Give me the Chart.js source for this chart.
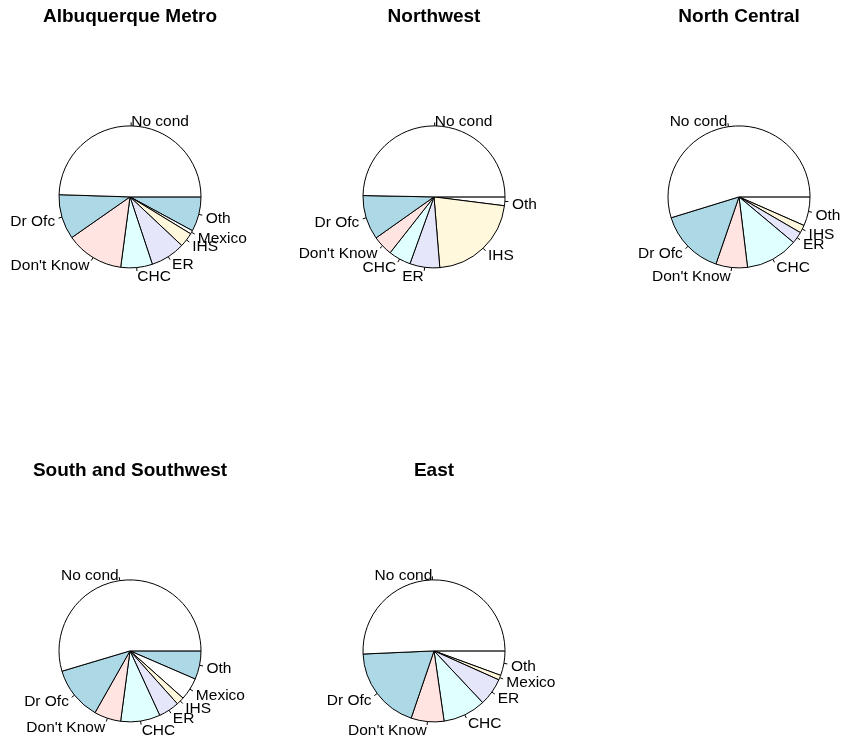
<!DOCTYPE html>
<html>
<head>
<meta charset="utf-8">
<script src="https://cdn.jsdelivr.net/npm/chart.js"></script>
<style>
  html, body { margin: 0; padding: 0; background: #fff; overflow: hidden; }
  #wrap { position: relative; width: 846px; height: 746px; overflow: hidden; }
  #wrap canvas { position: absolute; }
</style>
</head>
<body>
<div id="wrap">
  <canvas id="pie-metro" width="300" height="366" style="left:-20px;top:0px"></canvas>
  <canvas id="pie-northwest" width="300" height="366" style="left:284px;top:0px"></canvas>
  <canvas id="pie-northcentral" width="300" height="366" style="left:589px;top:0px"></canvas>
  <canvas id="pie-south" width="300" height="366" style="left:-20px;top:454px"></canvas>
  <canvas id="pie-east" width="300" height="366" style="left:284px;top:454px"></canvas>
</div>
<script>
// percent of respondents by usual source of care, per region
const metroLabels = ['No cond', 'Dr Ofc', "Don't Know", 'CHC', 'ER', 'IHS', 'Mexico', 'Oth'];
const metroValues = [49.5, 10.2, 13.2, 7.2, 7.9, 3.3, 0.8, 7.9];

const northwestLabels = ['No cond', 'Dr Ofc', "Don't Know", 'CHC', 'ER', 'IHS', 'Oth'];
const northwestValues = [49.7, 10.1, 4.6, 5.1, 6.8, 21.7, 2.0];

const northCentralLabels = ['No cond', 'Dr Ofc', "Don't Know", 'CHC', 'ER', 'IHS', 'Oth'];
const northCentralValues = [54.8, 15.0, 7.2, 12.0, 2.7, 1.8, 6.6];

const southLabels = ['No cond', 'Dr Ofc', "Don't Know", 'CHC', 'ER', 'IHS', 'Mexico', 'Oth'];
const southValues = [54.7, 12.2, 6.1, 9.0, 4.75, 1.8, 5.1, 6.5];

const eastLabels = ['No cond', 'Dr Ofc', "Don't Know", 'CHC', 'ER', 'Mexico', 'Oth'];
const eastValues = [50.75, 19.1, 7.5, 9.75, 6.3, 1.1, 5.6];

// R's default pie palette, recycled
const palette = ['#FFFFFF', '#ADD8E6', '#FFE4E1', '#E0FFFF', '#E6E6FA', '#FFF8DC'];

const FONT = '"Liberation Sans", Arial, Helvetica, sans-serif';

// R style labels: small tick from the rim, text at 1.1 * radius
const rLabels = {
    id: 'rLabels',
    afterDatasetsDraw(chart) {
        const ctx = chart.ctx;
        const meta = chart.getDatasetMeta(0);
        ctx.save();
        ctx.font = '15.5px ' + FONT;
        ctx.fillStyle = '#000';
        ctx.strokeStyle = '#000';
        ctx.lineWidth = 1;
        ctx.textBaseline = 'middle';
        meta.data.forEach((arc, i) => {
            const p = arc.getProps(['x', 'y', 'startAngle', 'endAngle', 'outerRadius'], true);
            const mid = (p.startAngle + p.endAngle) / 2;
            const c = Math.cos(mid), s = Math.sin(mid);
            const r = p.outerRadius;
            ctx.beginPath();
            ctx.moveTo(p.x + c * r, p.y + s * r);
            ctx.lineTo(p.x + c * r * 1.05, p.y + s * r * 1.05);
            ctx.stroke();
            ctx.textAlign = c < 0 ? 'right' : 'left';
            // R sits the text a touch lower than canvas 'middle'
            ctx.fillText(chart.data.labels[i], p.x + c * r * 1.1, p.y + s * r * 1.1 + 2.5);
        });
        ctx.restore();
    }
};

// R draws counter-clockwise from 3 o'clock; Chart.js goes clockwise,
// so feed the slices in reverse starting at 90 degrees
function makePie(id, title, labels, values) {
    const colors = labels.map((_, i) => palette[i % palette.length]);
    new Chart(document.getElementById(id).getContext('2d'), {
        type: 'pie',
        data: {
            labels: labels.slice().reverse(),
            datasets: [{
                data: values.slice().reverse(),
                backgroundColor: colors.slice().reverse(),
                borderColor: '#000',
                borderWidth: 1
            }]
        },
        options: {
            responsive: false,
            animation: false,
            devicePixelRatio: 1,
            events: [],
            rotation: 90,
            radius: 71,
            layout: { padding: 0 },
            plugins: {
                legend: { display: false },
                tooltip: { enabled: false },
                title: {
                    display: true,
                    text: title,
                    color: '#000',
                    font: { family: FONT, size: 19, weight: 'bold' },
                    padding: { top: 5, bottom: 0 }
                }
            }
        },
        plugins: [rLabels]
    });
}

makePie('pie-metro', 'Albuquerque Metro', metroLabels, metroValues);
makePie('pie-northwest', 'Northwest', northwestLabels, northwestValues);
makePie('pie-northcentral', 'North Central', northCentralLabels, northCentralValues);
makePie('pie-south', 'South and Southwest', southLabels, southValues);
makePie('pie-east', 'East', eastLabels, eastValues);
</script>
</body>
</html>
